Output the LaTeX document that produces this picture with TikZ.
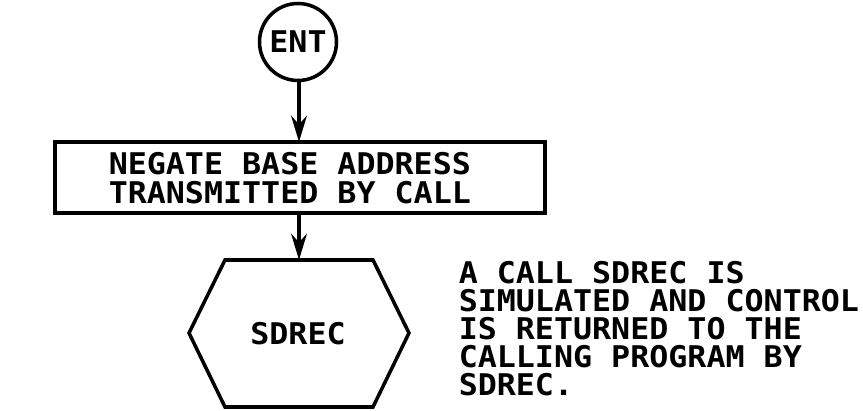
\documentclass[tikz,border=0pt]{standalone}
\usepackage{fontspec}
\newfontfamily\plotfont[FakeStretch=1.06]{DejaVu Sans Mono}
\usetikzlibrary{arrows.meta}
\begin{document}
\begin{tikzpicture}[x=0.02cm,y=-0.02cm,
  line width=2pt,
  flow/.style={draw,line width=1.8pt,-{Stealth[length=15pt,width=9pt,inset=5pt]}},
  txt/.style={inner sep=0pt,align=left,font=\plotfont\bfseries\fontsize{17}{16.3}\selectfont},
  rtext/.style={txt,anchor=north west,font=\plotfont\bfseries\fontsize{17}{15.9}\selectfont}]
\useasboundingbox (0,0) rectangle (863,411);
\node[draw,circle,minimum size=77*0.02cm,inner sep=0pt,txt] (ent) at (298,42) {ENT};
\draw (55,142) coordinate (b1) rectangle (545,213) coordinate (b2);
\coordinate (btop) at (299,142);
\coordinate (bbot) at (299,213);
\node[txt,anchor=north west] (boxt) at (107,151) {NEGATE BASE ADDRESS\\TRANSMITTED BY CALL};
\coordinate (hT) at (299,260);
\draw (225,260) coordinate (h1) -- (373,260) coordinate (h2) -- (409,333) coordinate (h3) -- (373,407) coordinate (h4) -- (225,407) coordinate (h5) -- (189,333) coordinate (h6) -- cycle;
\node[txt,anchor=center] (sd) at (298,334) {SDREC};
\draw[flow] (ent.south -| btop) -- (btop);
\draw[flow] (bbot) -- (hT);
\node[rtext] (note) at (457,260) {A CALL SDREC IS\\SIMULATED AND CONTROL\\IS RETURNED TO THE\\CALLING PROGRAM BY\\SDREC.};
\end{tikzpicture}
\end{document}
